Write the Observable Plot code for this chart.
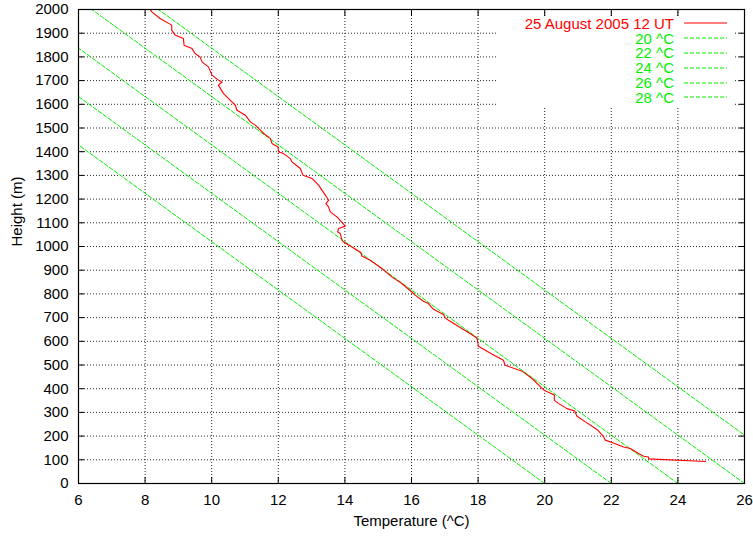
<!DOCTYPE html>
<html>
<head>
<meta charset="utf-8">
<script src="https://cdn.jsdelivr.net/npm/d3@7"></script>
<script src="https://cdn.jsdelivr.net/npm/@observablehq/plot@0.6"></script>
<style>
  html, body { margin: 0; padding: 0; background: #fff; }
  #wrap { position: relative; width: 753px; height: 538px; font-family: "Liberation Sans", Arial, sans-serif; }
  #legend { position: absolute; background: #fff; }
  .lg-text { position: absolute; font-size: 15px; white-space: nowrap; text-align: right; line-height: 13px; height: 13px; }
  .lg-line { position: absolute; }
</style>
</head>
<body>
<div id="wrap"></div>
<script>
// ---- data ----
const profileLabel = "25 August 2005 12 UT";
const profileHeight = [93,104,112,115,127,148,154,173,183,197,
  204,228,260,284,306,316,338,351,373,391,
  401,443,474,499,520,546,579,605,614,633,
  650,689,699,713,735,759,769,795,808,844,
  872,907,942,960,975,994,1019,1027,1055,1062,
  1076,1086,1094,1125,1146,1167,1181,1195,1207,1238,
  1259,1287,1301,1329,1357,1371,1392,1399,1420,1435,
  1456,1477,1512,1526,1554,1575,1596,1617,1646,1681,
  1694,1702,1723,1758,1779,1800,1814,1835,1849,1878,
  1892,1913,1934,1962,1990,2000];
const profileTemp = [24.83,23.12,23.12,22.97,22.82,22.57,22.37,22.02,21.82,21.77,
  21.73,21.57,21.22,20.97,20.9,20.67,20.41,20.29,20.29,20.01,
  19.92,19.62,19.32,18.81,18.76,18.41,18.01,17.98,17.96,17.76,
  17.56,17.11,17.01,16.96,16.66,16.51,16.36,16.11,16.01,15.71,
  15.41,15.11,14.76,14.51,14.48,14.26,13.96,13.91,13.86,13.78,
  13.81,14.01,13.96,13.76,13.56,13.51,13.43,13.51,13.46,13.31,
  13.21,13.01,12.74,12.66,12.41,12.36,12.16,12.01,11.99,11.81,
  11.76,11.56,11.31,11.16,11.01,10.76,10.71,10.56,10.35,10.2,
  10.31,10.2,10.01,9.9,9.71,9.65,9.5,9.41,9.17,9.15,
  8.9,8.8,8.8,8.45,8.2,8.15];

// dry adiabats: temperature at the ground (0 m) and at 2000 m
const adiabatNames = ["20 ^C","22 ^C","24 ^C","26 ^C","28 ^C"];
const adiabatBottomHeight = 0;
const adiabatTopHeight = 2000;
const adiabatBottomTemp = [20,22,24,26,28];
const adiabatTopTemp = [0.4,2.4,4.4,6.4,8.4];

const xTicks = [6,8,10,12,14,16,18,20,22,24,26];
const yTicks = [0,100,200,300,400,500,600,700,800,900,1000,1100,1200,1300,1400,1500,1600,1700,1800,1900,2000];

const xLabel = "Temperature (^C)";
const yLabel = "Height (m)";

// ---- build tables ----
const profile = profileHeight.map((h, i) => ({h, t: profileTemp[i]}));
const adiabats = [];
adiabatNames.forEach((name, i) => {
  adiabats.push({name, t: adiabatBottomTemp[i], h: adiabatBottomHeight});
  adiabats.push({name, t: adiabatTopTemp[i], h: adiabatTopHeight});
});

const RED = "#ff0000";
const GREEN = "#00f000";
const FONT = "15px";
const plain = d => String(d);

const plot = Plot.plot({
  width: 753,
  height: 538,
  marginLeft: 78,
  marginRight: 9,
  marginTop: 9,
  marginBottom: 55,
  style: {fontFamily: '"Liberation Sans", Arial, sans-serif', fontSize: FONT, background: "#fff", color: "#000"},
  x: {domain: [6, 26]},
  y: {domain: [0, 2000]},
  marks: [
    Plot.gridX(xTicks, {stroke: "#000", strokeOpacity: 0.85, strokeDasharray: "1,2"}),
    Plot.gridY(yTicks, {stroke: "#000", strokeOpacity: 0.85, strokeDasharray: "1,2"}),
    Plot.line(adiabats, {x: "t", y: "h", z: "name", stroke: GREEN, strokeWidth: 1, strokeDasharray: "4,2", clip: true}),
    Plot.line(profile, {x: "t", y: "h", stroke: RED, strokeWidth: 1.1, clip: true}),
    // tick labels
    Plot.axisX(xTicks, {anchor: "bottom", tickSize: 0, tickPadding: 11, tickFormat: plain, label: null, fontSize: FONT}),
    Plot.axisY(yTicks, {anchor: "left", tickSize: 0, tickPadding: 10, tickFormat: plain, label: null, fontSize: FONT}),
    // inward ticks on all four sides
    Plot.axisX(xTicks, {anchor: "bottom", tickSize: -6, tickFormat: () => "", label: null}),
    Plot.axisX(xTicks, {anchor: "top", tickSize: -6, tickFormat: () => "", label: null}),
    Plot.axisY(yTicks, {anchor: "left", tickSize: -6, tickFormat: () => "", label: null}),
    Plot.axisY(yTicks, {anchor: "right", tickSize: -6, tickFormat: () => "", label: null}),
    Plot.frame({stroke: "#000", strokeWidth: 1.2}),
    // axis titles
    Plot.text([xLabel], {text: d => d, frameAnchor: "bottom", dy: 38, lineAnchor: "middle", fontSize: FONT}),
    Plot.text([yLabel], {text: d => d, frameAnchor: "left", dx: -61, rotate: -90, lineAnchor: "middle", fontSize: FONT})
  ]
});

const wrap = document.getElementById("wrap");
wrap.appendChild(plot);

// ---- legend (gnuplot style key, top right, opaque) ----
const legend = document.createElement("div");
legend.id = "legend";
legend.style.left = "496px";
legend.style.top = "16px";
legend.style.width = "239px";
legend.style.height = "90px";
wrap.appendChild(legend);

const legendItems = [{label: profileLabel, color: RED, dash: null}]
  .concat(adiabatNames.map(n => ({label: n, color: GREEN, dash: "4,2"})));
const rowTop = 23.3, rowStep = 14.8;
legendItems.forEach((it, i) => {
  const cy = rowTop + i * rowStep;
  const tx = document.createElement("div");
  tx.className = "lg-text";
  tx.textContent = it.label;
  tx.style.color = it.color;
  tx.style.right = (753 - 674) + "px";
  tx.style.top = (cy - 6.5) + "px";
  wrap.appendChild(tx);
  const ns = "http://www.w3.org/2000/svg";
  const s = document.createElementNS(ns, "svg");
  s.setAttribute("class", "lg-line");
  s.setAttribute("width", "44");
  s.setAttribute("height", "4");
  s.style.left = "684px";
  s.style.top = (cy - 2) + "px";
  const l = document.createElementNS(ns, "line");
  l.setAttribute("x1", 0); l.setAttribute("x2", 43);
  l.setAttribute("y1", 2); l.setAttribute("y2", 2);
  l.setAttribute("stroke", it.color);
  l.setAttribute("stroke-width", 1);
  if (it.dash) l.setAttribute("stroke-dasharray", it.dash);
  s.appendChild(l);
  wrap.appendChild(s);
});
</script>
</body>
</html>
